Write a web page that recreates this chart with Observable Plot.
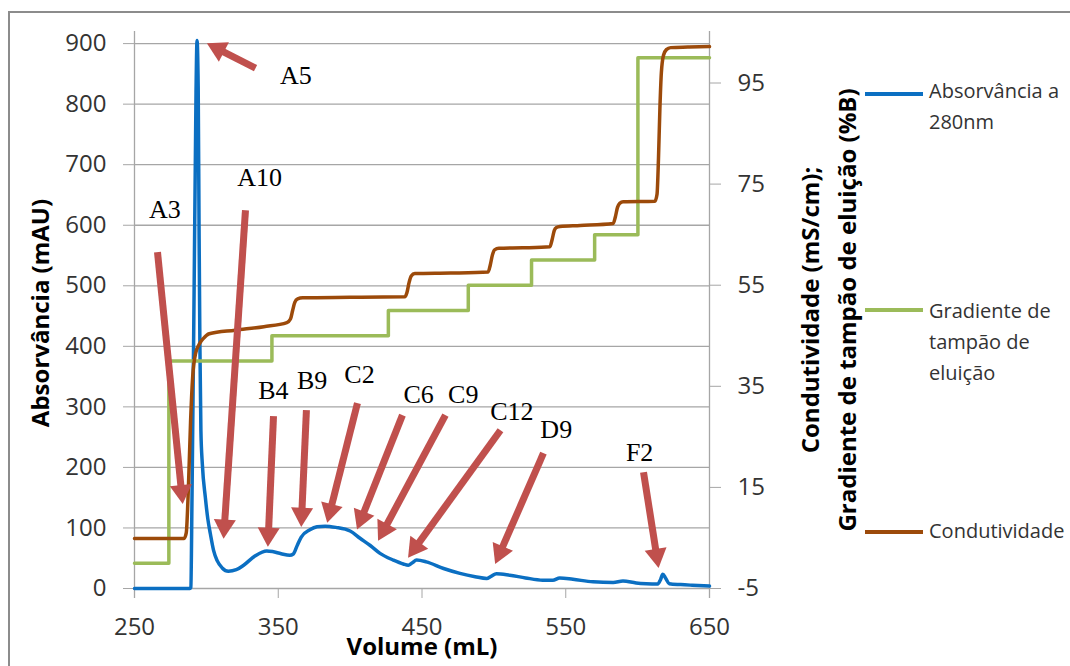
<!DOCTYPE html>
<html><head><meta charset="utf-8">
<script src="https://cdn.jsdelivr.net/npm/d3@7"></script>
<script src="https://cdn.jsdelivr.net/npm/@observablehq/plot@0.6"></script>
<style>
html,body{margin:0;padding:0;background:#fff;}
#wrap{position:relative;width:1070px;height:666px;overflow:hidden;font-family:"Open Sans",sans-serif;}
#chart{position:absolute;left:0;top:0;}
#frame{position:absolute;left:8px;top:11px;width:1080px;height:700px;border-left:2px solid #8c8c8c;border-top:2px solid #8c8c8c;pointer-events:none;}
.leg{position:absolute;left:865px;font-size:20px;color:#333;line-height:31px;}
.leg .sw{position:absolute;left:0;width:58px;height:4px;}
.leg .tx{position:absolute;left:64px;top:0;white-space:nowrap;}
</style></head>
<body>
<div id="wrap"><div id="chart"></div><div id="frame"></div><div id="legend"></div></div>
<script>
// ---- data ----
const absVolume = [250,270,288.5,289.2,290,291.5,292.8,293.5,294.3,294.9,295.5,296.2,297.2,299.3,301,302.8,305,307.5,311,315.3,320.8,325.7,334,342,346,352,358,360.5,363,366,372,377,382.6,390,400,406.9,414,420.8,430,437,440.5,443,446.3,453,465,476.4,487,495,498,501.8,511,522,534,541,545.8,555,569,583,589.8,599,606,614,616,617.5,619.5,622,630,638,650];
const absorbance = [0,0,0,2,150,500,820,905,830,600,400,260,205,150,115,90,63,46,34,28.5,31,38,54,62,61,57.5,55,57,70,85,97,102,103,101,95,83,71,58,47,40.5,38.5,42,47,44,33,25,19.5,16.5,20,24.5,22,17.5,13.7,13.5,17.5,15.3,11,10,12.5,9.2,8,7.5,15,23.6,17,8,6.5,5.4,4];

const condVolume = [250,284.5,286,287.5,289,290.5,292.5,295,298,302,320,340,356,358.5,360,361.5,363.5,367,400,438,439.5,441,442.5,445,470,496,497.5,499,500.5,503.5,520,539,540.5,542,543.5,546,560,583,584.5,586,587.5,590,612,613.5,614.5,615.5,616.5,618,620,623,635,650];
const conductivity = [4.9,4.9,6,15,28,37,41.5,43.3,44.5,45.4,46.1,46.8,47.6,48.3,50,51.6,52.3,52.5,52.6,52.7,53.5,55.5,56.8,57.3,57.4,57.6,59,61,62,62.3,62.4,62.6,64,65.8,66.4,66.6,66.8,67.2,68.5,70.4,71.2,71.5,71.6,73,80,90,97,100.5,101.6,102,102.1,102.2];

const gradVolume = [250,273.9,345.6,426.6,482.2,526.2,570.1,600.2,650];
const gradient = [0,40,45,50,55,60,65,100,100];

const fractionLabels = ["A3","A5","A10","B4","B9","C2","C6","C9","C12","D9","F2"];
const labelVolume = [271.2,362.2,337.1,346.6,373.6,406.5,447.6,478.7,512.5,543.4,601.4];
const labelAbs    = [626.5,847,678.6,327.5,342.7,353.6,320,320,292.5,262,225.1];
const tailVolume  = [266.0,334.2,327.2,346.7,369.6,405.1,436.4,466.3,504.6,534.5,604.1];
const tailAbs     = [555.5,859.4,624.6,284.6,294.5,306.1,286.3,286.3,261.5,223.5,192.1];
const tipVolume   = [283.5,300.8,312.0,342.8,366.0,384.2,405.0,419.7,440.6,501.1,614.5];
const tipAbs      = [140.6,900,83.5,70,103,109.7,98.5,79.8,51.7,41.8,35.2];

const xTicks = [250,350,450,550,650];
const yTicks = [0,100,200,300,400,500,600,700,800,900];
const rightTicks = [-5,15,35,55,75,95];

const xTitle = "Volume (mL)";
const yTitle = "Absorvância (mAU)";
const rightTitle = ["Condutividade (mS/cm);", "Gradiente de tampão de eluição (%B)"];
const legendLabels = [["Absorvância a","280nm"],["Gradiente de","tampão de","eluição"],["Condutividade"]];

// ---- styles ----
const BLUE = "#0b6fc2", GREEN = "#9bbb59", BROWN = "#9c4a0a", RED = "#c0504d", GRID = "#a6a6a6", TXT = "#333";

// right axis (conductivity / %B) expressed on the left (mAU) scale
const toLeft = d3.scaleLinear().domain([-5, 105.19]).range([0, 920]);

const titleStyle = {text: d => d, fontWeight: "bold", fontSize: 24, fill: "#000", textAnchor: "middle", lineAnchor: "middle"};

function makeMarks(extra) {
  return [
    Plot.ruleY(yTicks, {stroke: GRID, strokeWidth: 1.3}),
    Plot.ruleX([250, 650], {stroke: GRID, strokeWidth: 1.3, insetBottom: -10}),
    Plot.axisY(yTicks, {anchor: "left", tickSize: 11, tickPadding: 17, stroke: GRID, fill: TXT, label: null}),
    Plot.axisY(rightTicks.map(toLeft), {anchor: "right", tickSize: 11, tickPadding: 17, stroke: GRID, fill: TXT, label: null,
      tickFormat: d => String(Math.round(toLeft.invert(d)))}),
    Plot.axisX(xTicks, {anchor: "bottom", tickSize: 10, tickPadding: 19, stroke: GRID, fill: TXT, label: null}),
    Plot.line(absorbance, {x: absVolume, y: absorbance, stroke: BLUE, strokeWidth: 3.5, curve: "monotone-x"}),
    Plot.line(gradient, {x: gradVolume, y: gradient.map(toLeft), stroke: GREEN, strokeWidth: 3.5, curve: "step-after"}),
    Plot.line(conductivity, {x: condVolume, y: conductivity.map(toLeft), stroke: BROWN, strokeWidth: 3.5, curve: "monotone-x"}),
    Plot.text([yTitle], {...titleStyle, frameAnchor: "left", dx: -93, dy: 3, rotate: -90}),
    Plot.text([xTitle], {...titleStyle, frameAnchor: "bottom", dy: 59}),
    Plot.text([rightTitle[0]], {...titleStyle, frameAnchor: "right", dx: 102, rotate: -90}),
    Plot.text([rightTitle[1]], {...titleStyle, frameAnchor: "right", dx: 139, rotate: -90}),
    ...extra
  ];
}

const common = {
  width: 1070, height: 666,
  marginLeft: 134, marginRight: 361, marginTop: 31, marginBottom: 78,
  x: {domain: [250, 650]},
  y: {domain: [0, 920]},
  style: {fontFamily: "'Open Sans', sans-serif", fontSize: "24px", color: TXT, background: "transparent", overflow: "visible"}
};

// first pass to read the library's scales
const base = Plot.plot({...common, marks: makeMarks([])});
const sx = base.scale("x"), sy = base.scale("y");

const HEAD_BACK = 12; // px from tip to triangle centroid
const headVol = [], headAbs = [], shaftVol = [], shaftAbs = [], headRot = [];
fractionLabels.forEach((_, i) => {
  const x0 = sx.apply(tailVolume[i]), y0 = sy.apply(tailAbs[i]);
  const x1 = sx.apply(tipVolume[i]), y1 = sy.apply(tipAbs[i]);
  const dx = x1 - x0, dy = y1 - y0, len = Math.hypot(dx, dy);
  const ux = dx / len, uy = dy / len;
  headVol.push(sx.invert(x1 - ux * HEAD_BACK));
  headAbs.push(sy.invert(y1 - uy * HEAD_BACK));
  shaftVol.push(sx.invert(x1 - ux * 13));
  shaftAbs.push(sy.invert(y1 - uy * 13));
  headRot.push(Math.atan2(dx, -dy) * 180 / Math.PI);
});

const chart = Plot.plot({...common, marks: makeMarks([
  Plot.link(fractionLabels, {x1: tailVolume, y1: tailAbs, x2: shaftVol, y2: shaftAbs, stroke: RED, strokeWidth: 7}),
  Plot.dot(fractionLabels, {x: headVol, y: headAbs, symbol: "triangle", r: 8.2, fill: RED, stroke: "none", rotate: headRot}),
  Plot.text(fractionLabels, {x: labelVolume, y: labelAbs, text: d => d, fontFamily: "'Liberation Serif', 'Times New Roman', serif", fontSize: 26, fill: "#000"})
])});
document.getElementById("chart").appendChild(chart);

// legend
const legendColors = [BLUE, GREEN, BROWN];
const legendSwatchY = [94, 310, 532];
const legendTextTop = [75, 295, 515];
const leg = document.getElementById("legend");
legendLabels.forEach((lines, i) => {
  const item = document.createElement("div");
  item.className = "leg";
  item.style.top = legendTextTop[i] + "px";
  const sw = document.createElement("div");
  sw.className = "sw";
  sw.style.background = legendColors[i];
  sw.style.top = (legendSwatchY[i] - legendTextTop[i] - 2) + "px";
  const tx = document.createElement("div");
  tx.className = "tx";
  tx.innerHTML = lines.join("<br>");
  item.appendChild(sw); item.appendChild(tx);
  leg.appendChild(item);
});
</script>
</body></html>
